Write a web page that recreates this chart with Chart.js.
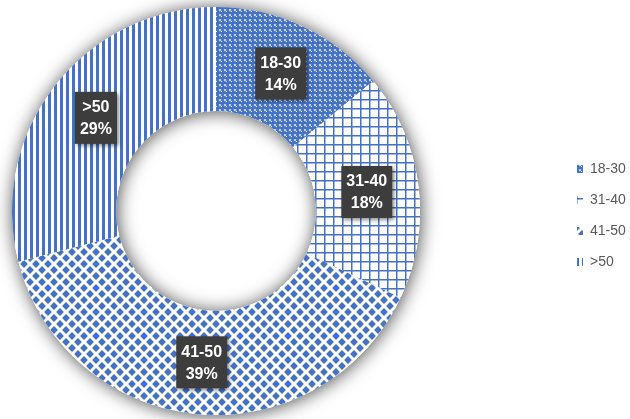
<!DOCTYPE html>
<html>
<head>
<meta charset="utf-8">
<script src="https://cdn.jsdelivr.net/npm/chart.js@4"></script>
<style>
  html, body { margin: 0; padding: 0; background: #fff; }
  #wrap { width: 630px; height: 419px; position: relative; }
</style>
</head>
<body>
<div id="wrap"><canvas id="grafico"></canvas></div>
<script>
// grupos de edad y su porcentaje
const categories = ['18-30', '31-40', '41-50', '>50'];
const shares = [14, 18, 39, 29];

const BLUE = '#4472C4';

function makePattern(w, h, draw) {
    const c = document.createElement('canvas');
    c.width = w; c.height = h;
    const g = c.getContext('2d');
    g.fillStyle = '#fff';
    g.fillRect(0, 0, w, h);
    g.fillStyle = BLUE;
    g.strokeStyle = BLUE;
    draw(g, w, h);
    return document.createElement('canvas').getContext('2d').createPattern(c, 'repeat');
}

// esferas
const spheres = makePattern(5, 5, (g) => {
    g.beginPath();
    g.arc(2.5, 2.5, 2.6, 0, Math.PI * 2);
    g.fill();
    g.fillStyle = 'rgba(255,255,255,0.9)';
    g.fillRect(1, 1, 1, 1);
});

// cuadricula
const grid = makePattern(9, 9, (g) => {
    g.fillRect(0, 0, 9, 1.5);
    g.fillRect(0, 0, 1.5, 9);
});

// rombos
const diamonds = makePattern(12, 12, (g) => {
    const d = (x, y, r) => {
        g.beginPath();
        g.moveTo(x, y - r); g.lineTo(x + r, y); g.lineTo(x, y + r); g.lineTo(x - r, y);
        g.closePath(); g.fill();
    };
    const r = 3.9;
    d(6, 6, r);
    d(0, 0, r); d(12, 0, r); d(0, 12, r); d(12, 12, r);
});

// rayas verticales
const stripes = makePattern(6, 1, (g) => {
    g.fillRect(0, 0, 3, 1);
});

const fills = [spheres, grid, diamonds, stripes];

const ringShadow = {
    id: 'ringShadow',
    beforeDatasetsDraw(chart) {
        const arc = chart.getDatasetMeta(0).data[0];
        if (!arc) return;
        const ctx = chart.ctx;
        ctx.save();
        ctx.beginPath();
        ctx.arc(arc.x, arc.y, arc.outerRadius, 0, Math.PI * 2);
        ctx.arc(arc.x, arc.y, arc.innerRadius, 0, Math.PI * 2, true);
        ctx.shadowColor = 'rgba(0,0,0,0.7)';
        ctx.shadowBlur = 18;
        ctx.shadowOffsetX = 1;
        ctx.shadowOffsetY = 1;
        ctx.fillStyle = '#fff';
        ctx.fill();
        ctx.restore();
    }
};

const sliceLabels = {
    id: 'sliceLabels',
    afterDatasetsDraw(chart) {
        const ctx = chart.ctx;
        const values = chart.data.datasets[0].data;
        const total = values.reduce((a, b) => a + b, 0);
        chart.getDatasetMeta(0).data.forEach((arc, i) => {
            const p = arc.tooltipPosition();
            const l1 = chart.data.labels[i];
            const l2 = Math.round(values[i] / total * 100) + '%';
            ctx.save();
            ctx.font = 'bold 16px "Liberation Sans", Arial, sans-serif';
            const w = Math.max(ctx.measureText(l1).width, ctx.measureText(l2).width) + 10;
            const h = 52;
            ctx.shadowColor = 'rgba(0,0,0,0.45)';
            ctx.shadowBlur = 4;
            ctx.shadowOffsetX = 2;
            ctx.shadowOffsetY = 2;
            ctx.fillStyle = '#3d3d3d';
            ctx.fillRect(p.x - w / 2, p.y - h / 2, w, h);
            ctx.shadowColor = 'transparent';
            ctx.fillStyle = '#ffffff';
            ctx.textAlign = 'center';
            ctx.textBaseline = 'middle';
            ctx.fillText(l1, p.x, p.y - 10);
            ctx.fillText(l2, p.x, p.y + 12);
            ctx.restore();
        });
    }
};

const sideLegend = {
    id: 'sideLegend',
    afterDraw(chart, args, opts) {
        const ctx = chart.ctx;
        ctx.save();
        ctx.font = '14px "Liberation Sans", Arial, sans-serif';
        ctx.textBaseline = 'middle';
        chart.data.labels.forEach((lab, i) => {
            const y = opts.y + i * opts.step;
            ctx.fillStyle = fills[i];
            ctx.fillRect(opts.x, y - 4, 6, 8);
            ctx.fillStyle = '#595959';
            ctx.fillText(lab, opts.x + 13, y);
        });
        ctx.restore();
    }
};

new Chart('grafico', {
    type: 'doughnut',
    data: {
        labels: categories,
        datasets: [{
            data: shares,
            backgroundColor: fills,
            borderWidth: 0,
            hoverOffset: 0
        }]
    },
    options: {
        responsive: true,
        maintainAspectRatio: false,
        animation: false,
        events: [],
        cutout: '49%',
        layout: { padding: { left: 12, right: 210, top: 7, bottom: 4 } },
        plugins: {
            legend: { display: false },
            tooltip: { enabled: false },
            sideLegend: { x: 577, y: 169, step: 31 }
        }
    },
    plugins: [ringShadow, sliceLabels, sideLegend]
});
</script>
</body>
</html>
